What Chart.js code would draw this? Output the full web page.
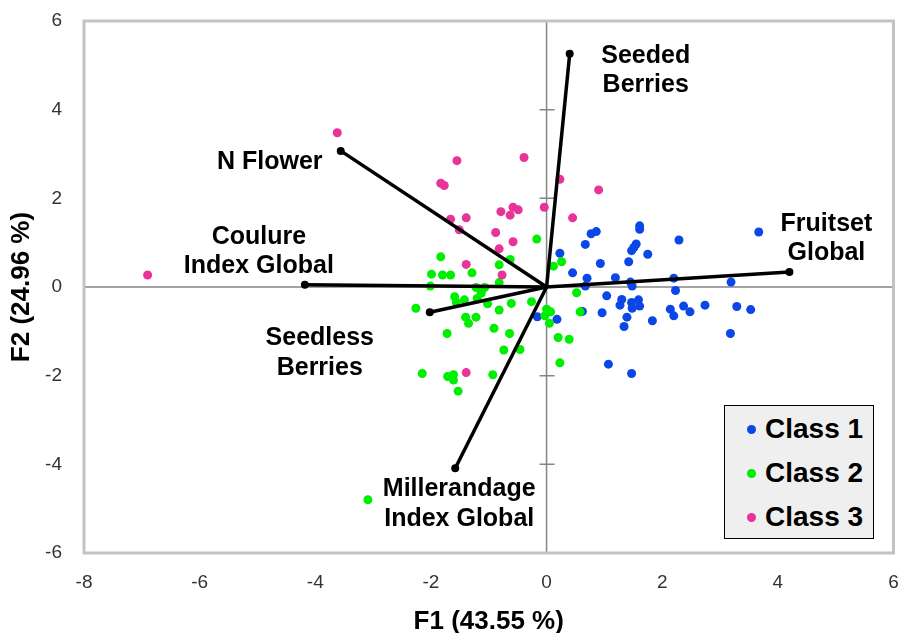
<!DOCTYPE html>
<html><head><meta charset="utf-8">
<script src="https://cdn.jsdelivr.net/npm/chart.js@4"></script>
<style>
html,body{margin:0;padding:0;background:#fff;}
#wrap{position:relative;width:898px;height:633px;}
#legend{position:absolute;left:724px;top:405px;width:148px;height:132px;background:#efefef;border:1px solid #000;font:bold 28px "Liberation Sans",Arial,sans-serif;color:#000;}
.row{position:absolute;left:0;height:32px;display:flex;align-items:center;white-space:nowrap;}
.dot{width:9px;height:9px;border-radius:50%;margin-left:22px;margin-right:9px;}
</style></head>
<body><div id="wrap"><canvas id="c" width="898" height="633"></canvas><div id="legend"></div></div>
<script>
// ---- data ----
const classNames = ['Class 1', 'Class 2', 'Class 3'];
const class1X = [0.86,0.77,0.67,0.23,0.93,0.45,0.70,1.19,1.42,1.61,1.61,3.67,2.29,1.55,1.51,1.47,1.75,1.45,1.48,2.20,3.19,2.23,1.04,1.30,1.27,1.47,1.59,1.61,1.48,0.96,1.39,1.34,1.83,2.14,2.20,2.37,2.48,2.74,3.29,3.53,3.18,1.07,1.47,-0.16,0.18,0.67,0.62];
const class1Y = [1.25,1.20,0.96,0.76,0.53,0.32,0.20,0.21,0.57,1.38,1.30,1.24,1.06,0.97,0.89,0.82,0.74,0.11,0.02,0.20,0.11,-0.08,-0.20,-0.28,-0.41,-0.35,-0.29,-0.43,-0.48,-0.58,-0.68,-0.89,-0.76,-0.50,-0.65,-0.43,-0.56,-0.41,-0.44,-0.51,-1.05,-1.74,-1.95,-0.67,-0.73,0.02,-0.55];
const class2X = [-0.17,-1.83,-0.63,-0.82,-1.29,-1.99,-1.80,-1.66,0.26,0.12,-0.82,-2.01,-1.22,-1.07,-1.13,-1.59,-1.42,-1.56,-1.20,-1.02,-0.61,-0.26,-2.26,-0.82,0.00,0.07,-0.03,0.05,-1.40,-1.22,-1.35,-1.72,-0.91,-0.64,0.20,0.39,-0.74,-0.46,0.23,-2.15,-1.71,-1.61,-1.61,-0.93,-1.53,0.52,0.58,-3.09];
const class2Y = [1.08,0.68,0.62,0.50,0.32,0.29,0.27,0.27,0.57,0.47,0.10,0.02,-0.01,-0.01,-0.14,-0.22,-0.29,-0.35,-0.26,-0.38,-0.37,-0.33,-0.48,-0.52,-0.50,-0.56,-0.65,-0.82,-0.68,-0.68,-0.82,-1.05,-0.93,-1.05,-1.14,-1.18,-1.42,-1.41,-1.71,-1.95,-2.02,-1.98,-2.10,-1.98,-2.35,-0.13,-0.56,-4.80];
const class3X = [-1.55,-0.39,-1.83,-1.77,0.23,0.90,-0.04,-0.58,-0.49,-0.79,-0.63,0.45,-1.66,-1.39,-1.51,-0.88,-0.58,-0.82,-1.39,-0.77,-1.39,-3.62,-6.90];
const class3Y = [2.85,2.92,2.34,2.29,2.43,2.19,1.80,1.80,1.74,1.70,1.62,1.56,1.53,1.56,1.29,1.23,1.02,0.86,0.51,0.27,-1.93,3.48,0.27];
const vectorNames = [['Seeded','Berries'],['N Flower'],['Coulure','Index Global'],['Seedless','Berries'],['Millerandage','Index Global'],['Fruitset','Global']];
const vectorX = [0.40,-3.56,-4.18,-2.02,-1.58,4.20];
const vectorY = [5.26,3.07,0.05,-0.57,-4.09,0.34];
const xTicks = [-8,-6,-4,-2,0,2,4,6];
const yTicks = [-6,-4,-2,0,2,4,6];
const xTitle = 'F1 (43.55 %)';
const yTitle = 'F2 (24.96 %)';

// ---- styles ----
const FONT = '"Liberation Sans", Arial, sans-serif';
const classColors = ['#0a47e6', '#00ee00', '#e8339b'];
const labelOffsets = [[76,2],[-71,11],[-46,-48],[-110,26],[4,21],[37,-48]];
const labelLineHeight = 29.5;

const zip = (xs, ys) => xs.map((x, i) => ({x, y: ys[i]}));
const classX = [class1X, class2X, class3X];
const classY = [class1Y, class2Y, class3Y];

const datasets = [];
vectorX.forEach((vx, i) => {
  datasets.push({
    label: vectorNames[i].join(' '),
    data: [{x:0, y:0}, {x: vx, y: vectorY[i]}],
    showLine: true, borderColor: '#000', borderWidth: 3.5,
    pointRadius: [0, 4], pointBackgroundColor: '#000', pointBorderWidth: 0,
    order: 0
  });
});
classNames.forEach((n, i) => {
  datasets.push({
    label: n, data: zip(classX[i], classY[i]),
    backgroundColor: classColors[i], borderWidth: 0, pointRadius: 4.5,
    order: 3 - i
  });
});

const framePlugin = {
  id: 'frame',
  beforeDatasetsDraw(chart) {
    const {ctx, chartArea: a, scales: {x, y}} = chart;
    const x0 = x.getPixelForValue(0), y0 = y.getPixelForValue(0);
    ctx.save();
    ctx.strokeStyle = '#858585'; ctx.lineWidth = 1.5;
    ctx.beginPath();
    ctx.moveTo(a.left, y0); ctx.lineTo(a.right, y0);
    ctx.moveTo(x0, a.top); ctx.lineTo(x0, a.bottom);
    yTicks.forEach(v => { const p = y.getPixelForValue(v); ctx.moveTo(x0 - 7, p); ctx.lineTo(x0 + 8, p); });
    ctx.stroke();
    ctx.restore();
  },
  afterDatasetsDraw(chart) {
    const {ctx, chartArea: a, scales: {x, y}} = chart;
    ctx.save();
    ctx.fillStyle = '#000';
    ctx.font = 'bold 25px ' + FONT;
    ctx.textAlign = 'center'; ctx.textBaseline = 'middle';
    vectorNames.forEach((lines, i) => {
      const px = x.getPixelForValue(vectorX[i]), py = y.getPixelForValue(vectorY[i]);
      const [dx, dy] = labelOffsets[i];
      lines.forEach((t, k) => ctx.fillText(t, px + dx, py + dy + k * labelLineHeight));
    });
    ctx.strokeStyle = '#c3c3c3'; ctx.lineWidth = 3;
    ctx.strokeRect(a.left, a.top, a.right - a.left, a.bottom - a.top);
    ctx.restore();
  }
};

const noPad = s => { s.paddingLeft = 0; s.paddingRight = 0; s.paddingTop = 0; s.paddingBottom = 0; };

new Chart(document.getElementById('c'), {
  type: 'scatter',
  data: {datasets},
  options: {
    responsive: false, animation: false,
    layout: {padding: {top: 21, right: 4, left: 0, bottom: 0}},
    plugins: {legend: {display: false}, tooltip: {enabled: false}},
    scales: {
      x: {
        type: 'linear', min: -8, max: 6,
        afterBuildTicks: s => { s.ticks = xTicks.map(v => ({value: v})); },
        afterFit: s => { s.height = 80; noPad(s); },
        grid: {display: false, drawTicks: false}, border: {display: false},
        ticks: {font: {family: FONT, size: 19}, color: '#333', padding: 18},
        title: {display: true, text: xTitle, color: '#000', font: {family: FONT, size: 26, weight: 'bold', lineHeight: 0.85}, padding: {top: 0, bottom: 0}}
      },
      y: {
        type: 'linear', min: -6, max: 6,
        afterBuildTicks: s => { s.ticks = yTicks.map(v => ({value: v})); },
        afterFit: s => { s.width = 84; noPad(s); },
        grid: {display: false, drawTicks: false}, border: {display: false},
        ticks: {font: {family: FONT, size: 19}, color: '#333', padding: 22},
        title: {display: true, text: yTitle, color: '#000', font: {family: FONT, size: 26, weight: 'bold', lineHeight: 0.85}, padding: {top: 11, bottom: 0}}
      }
    }
  },
  plugins: [framePlugin]
});

// HTML legend
const legend = document.getElementById('legend');
const rowCenters = [23, 67, 111];
classNames.forEach((n, i) => {
  const r = document.createElement('div');
  r.className = 'row';
  r.style.top = (rowCenters[i] - 16) + 'px';
  const d = document.createElement('span'); d.className = 'dot'; d.style.background = classColors[i];
  const t = document.createElement('span'); t.textContent = n;
  r.appendChild(d); r.appendChild(t);
  legend.appendChild(r);
});
</script>
</body></html>
